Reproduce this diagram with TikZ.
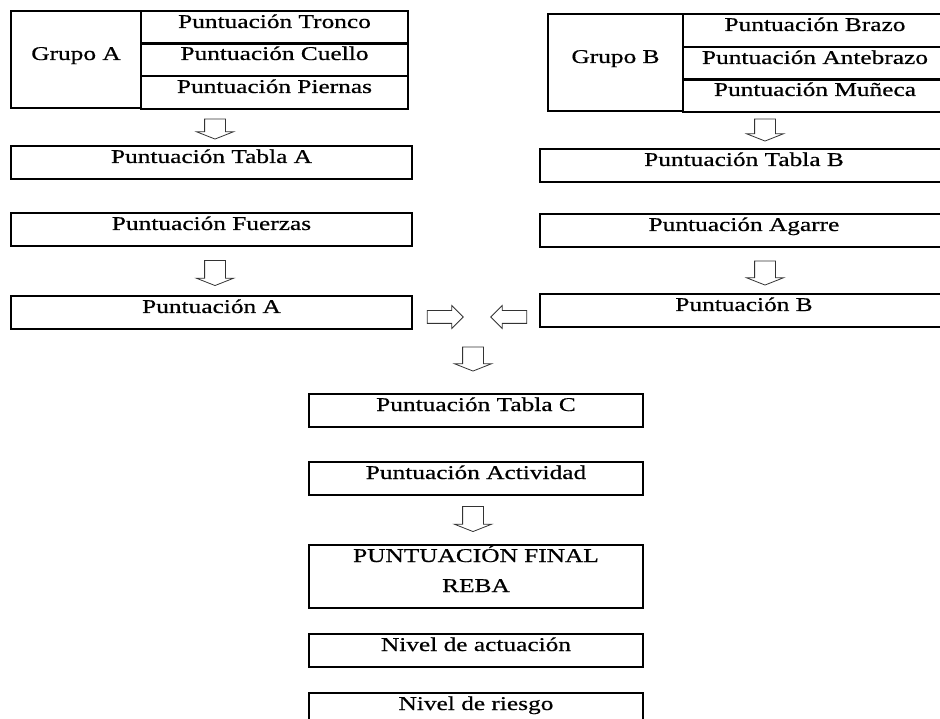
\documentclass[tikz,border=0pt]{standalone}
\usepackage{fontspec}
\setmainfont{Liberation Serif}[FakeStretch=1.3,FakeBold=0.6]
\usetikzlibrary{shapes.arrows}
\tikzset{
  cell/.style={draw=black,line width=1.1pt,anchor=north west,inner sep=3pt,outer sep=0pt,text height=14pt,text depth=13pt},
  leftbox/.style={cell,minimum width=401pt},
  rightbox/.style={cell,minimum width=408pt},
  midbox/.style={cell,minimum width=334pt},
  downarrow/.style={draw=black!80,line width=0.8pt,single arrow,single arrow head extend=8pt,single arrow tip angle=137,inner xsep=0pt,inner ysep=10pt,minimum height=22pt,rotate=-90},
  sidearrow/.style={draw=black!80,line width=0.8pt,single arrow,single arrow head extend=5pt,single arrow tip angle=90,inner xsep=0pt,inner ysep=6pt,minimum height=36pt}
}
\begin{document}
\begin{tikzpicture}[x=1pt,y=-1pt,font=\fontsize{19.5}{30}\selectfont]
  \clip (0,0) rectangle (940,719);

  % group A side
  \node (grupoA) [cell,minimum width=130pt,minimum height=97pt] at (11,11) {Grupo A};
  \node (tronco) [cell,minimum width=267pt,minimum height=32pt] at (141,11) {Puntuación Tronco};
  \node (cuello) [cell,minimum width=267pt,minimum height=33pt] at (141,43) {Puntuación Cuello};
  \node (piernas) [cell,minimum width=267pt,minimum height=32pt] at (141,76) {Puntuación Piernas};
  \node (tablaA) [leftbox] at (11,146) {Puntuación Tabla A};
  \node (fuerzas) [leftbox] at (11,213) {Puntuación Fuerzas};
  \node (puntA) [leftbox] at (11,296) {Puntuación A};

  % group B side
  \node (grupoB) [cell,minimum width=135pt,minimum height=97pt] at (548,14) {Grupo B};
  \node (brazo) [cell,minimum width=264pt,minimum height=33pt] at (683,14) {Puntuación Brazo};
  \node (antebrazo) [cell,minimum width=264pt,minimum height=32pt] at (683,47) {Puntuación Antebrazo};
  \node (muneca) [cell,minimum width=264pt,minimum height=32pt] at (683,79) {Puntuación Muñeca};
  \node (tablaB) [rightbox] at (540,149) {Puntuación Tabla B};
  \node (agarre) [rightbox] at (540,214) {Puntuación Agarre};
  \node (puntB) [rightbox] at (540,294) {Puntuación B};

  % centre column
  \node (tablaC) [midbox] at (309,394) {Puntuación Tabla C};
  \node (actividad) [midbox] at (309,462) {Puntuación Actividad};
  \node (final) [midbox,align=center,text height=44pt,text depth=13pt] at (309,545) {PUNTUACIÓN FINAL\\REBA};
  \node (actuacion) [midbox] at (309,634) {Nivel de actuación};
  \node (riesgo) [midbox] at (309,693) {Nivel de riesgo};

  % block arrows
  \node (arrA1) [downarrow,minimum height=20pt] at (215,127) {};
  \node (arrB1) [downarrow] at (765,128) {};
  \node (arrA2) [downarrow,minimum height=25pt] at (215,271) {};
  \node (arrB2) [downarrow,minimum height=24pt] at (765,271) {};
  \node (arrAC) [sidearrow] at (442,317) {};
  \node (arrBC) [sidearrow,rotate=180] at (512,317) {};
  \node (arrC) [downarrow,minimum height=24pt] at (473,357) {};
  \node (arrF) [downarrow,minimum height=25pt] at (473,517) {};
\end{tikzpicture}
\end{document}
